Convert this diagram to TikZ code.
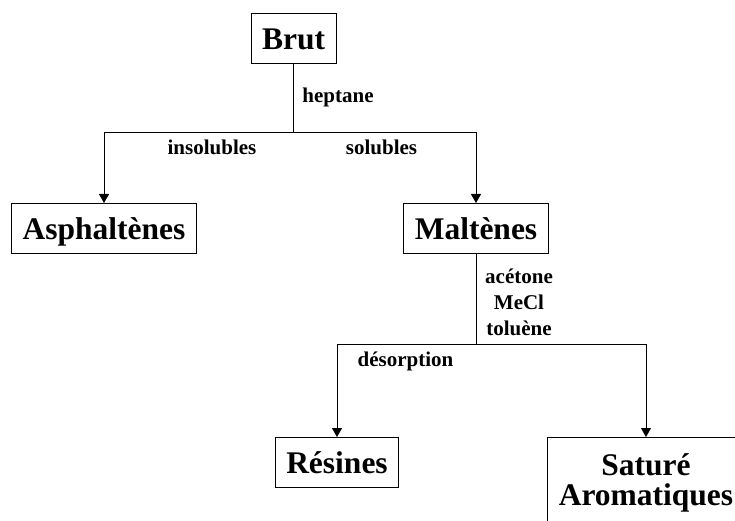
\documentclass[tikz,border=0pt]{standalone}
\usepackage{fontspec}
\setmainfont{Liberation Serif}
\usepackage{tikz}
\usetikzlibrary{arrows.meta, positioning}

\begin{document}
\begin{tikzpicture}[x=1pt, y=-1pt, line width=0.9pt,
    box/.style={draw, inner xsep=11pt, minimum height=50pt, text height=22pt, text depth=0pt,
        align=center, font=\fontsize{31.5}{30}\selectfont\bfseries},
    lbl/.style={inner sep=0pt, align=center, font=\fontsize{21}{26}\selectfont\bfseries},
    arr/.style={-{Triangle[width=10pt,length=9pt]}}]
    \useasboundingbox (0,0) rectangle (735,521);
    \clip (0,0) rectangle (735,521);
    % boxes
    \node[box, anchor=north] (brut) at (293.5,13) {Brut};
    \node[box, anchor=north] (asph) at (104,203) {Asphaltènes};
    \node[box, anchor=north] (malt) at (476,203) {Maltènes};
    \node[box, anchor=north] (resin) at (337,437) {Résines};
    \node[box, anchor=north, text height=, text depth=, minimum height=90pt] (satur) at (646,437) {Saturé\\Aromatiques};
    \coordinate (s1) at (293.5,132);
    \coordinate (s2) at (476,344);
    % connectors
    \draw (brut) -- (s1);
    \draw[arr] (s1) -| (asph);
    \draw[arr] (s1) -| (malt);
    \draw (malt) -- (s2);
    \draw[arr] (s2) -| (resin);
    \draw[arr] (s2) -| (satur);
    % labels
    \node[lbl, anchor=base west] (hept) at (302,103) {heptane};
    \node[lbl, anchor=base] (insol) at (212,155) {insolubles};
    \node[lbl, anchor=base] (sol) at (381.5,155) {solubles};
    \node[lbl, anchor=north] (solv) at (519,268) {acétone\\MeCl\\toluène};
    \node[lbl, anchor=base] (desorp) at (405.5,366) {désorption};
\end{tikzpicture}
\end{document}
